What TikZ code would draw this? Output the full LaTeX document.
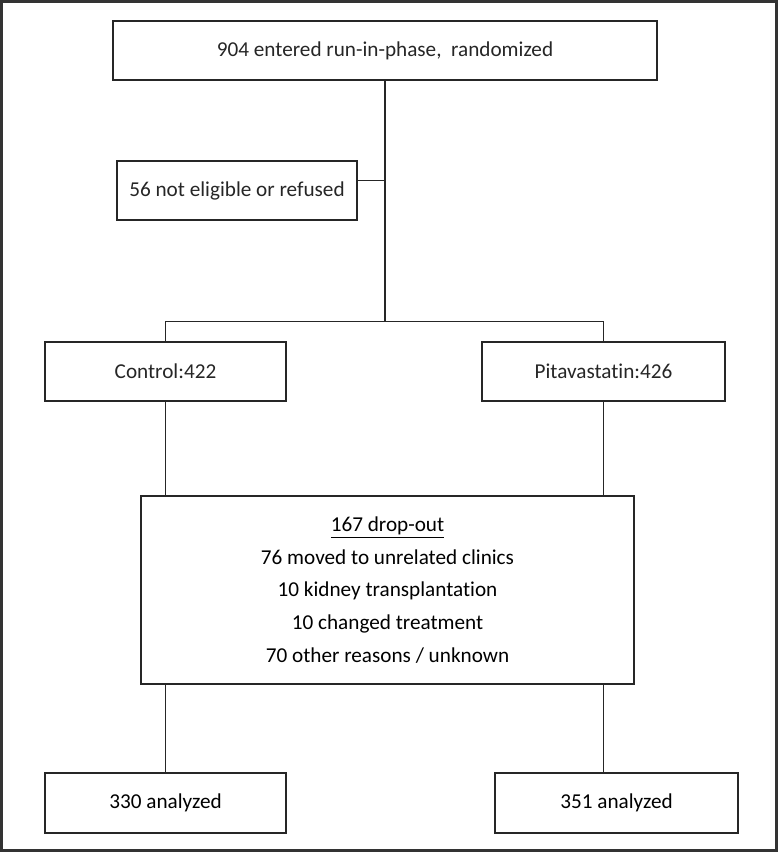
\documentclass[tikz,border=0pt]{standalone}
\usepackage{fontspec}
\setmainfont{Carlito}[Ligatures=NoCommon]
\usepackage{tikz}
\usetikzlibrary{calc}

\begin{document}
\begin{tikzpicture}[x=0.5pt,y=-0.5pt,
    flowbox/.style={draw=black!85, line width=0.8pt, inner sep=0pt,
      minimum height=29.5pt, align=center, text=black!85,
      font=\fontsize{10.6}{16.4}\selectfont},
    link/.style={draw=black!85, line width=0.8pt}]

    \useasboundingbox (0,0) rectangle (778,852);
    \draw[line width=1.2pt, black!80] (1.5,1.5) rectangle (776.5,850.5);

    % boxes
    \node[flowbox, minimum width=272pt] (enter) at (385,50.5)
      {904 entered run-in-phase,\ \ randomized};
    \node[flowbox, minimum width=120pt] (excl) at (237,190.5)
      {56 not eligible or refused};
    \node[flowbox, minimum width=120.5pt] (ctrl) at (165.5,371.5) {Control:422};
    \node[flowbox, minimum width=121.5pt] (pita) at (603.5,371.5) {Pitavastatin:426};
    \node[flowbox, minimum width=246.5pt, minimum height=94pt, text=black] (drop) at (387.5,590)
      {\underline{167 drop-out}\\76 moved\ to unrelated clinics\\10 kidney\ transplantation\\
       10 changed treatment\\70 other reasons / unknown};
    \node[flowbox, minimum width=120.5pt, minimum height=30pt, text=black] (anc) at (165.5,803) {330 analyzed};
    \node[flowbox, minimum width=121.5pt, minimum height=30pt, text=black] (anp) at (616.5,803) {351 analyzed};

    % lines
    \coordinate (split) at (385,321.5);
    \draw[link] (enter.south) -- (split);
    \draw[link] ([yshift=5pt]excl.east) -- ([yshift=5pt]excl.east -| split);
    \draw[link] (ctrl.north) -- (ctrl |- split) -- (pita |- split) -- (pita.north);
    \draw[link] (ctrl.south) -- (ctrl |- drop.north);
    \draw[link] (pita.south) -- (pita |- drop.north);
    \draw[link] (ctrl |- drop.south) -- (anc.north);
    \draw[link] (pita |- drop.south) -- (pita |- anp.north);
\end{tikzpicture}
\end{document}
